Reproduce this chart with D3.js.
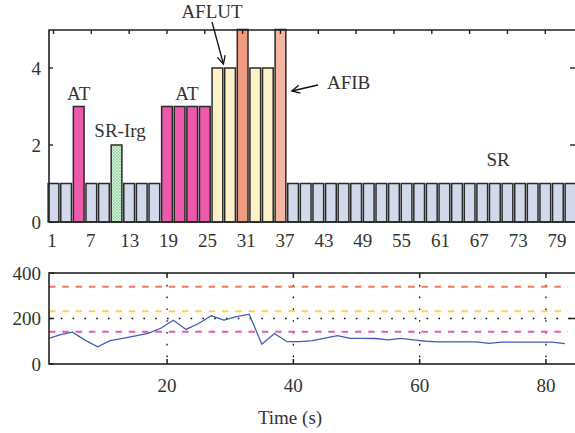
<!DOCTYPE html>
<html>
<head>
<meta charset="utf-8">
<script src="https://cdn.jsdelivr.net/npm/d3@7"></script>
<style>
  html, body { margin: 0; padding: 0; background: #fff; }
  svg { display: block; }
  text { font-family: "Liberation Serif", "Times New Roman", serif; fill: #333; }
</style>
</head>
<body>
<div id="chart"></div>
<script>
// ---------- data ----------
// beat-class per bar (42 bars, each covering two beats)
const barClass = [
  "SR","SR","AT","SR","SR","SR-Irg","SR","SR","SR",
  "AT","AT","AT","AT",
  "AFLUT","AFLUT","AFIB","AFLUT","AFLUT","AFIB-b",
  "SR","SR","SR","SR","SR","SR","SR","SR","SR","SR","SR","SR",
  "SR","SR","SR","SR","SR","SR","SR","SR","SR","SR","SR"
];
// severity level per class
const classLevel = { "SR": 1, "SR-Irg": 2, "AT": 3, "AFLUT": 4, "AFIB": 5, "AFIB-b": 5 };
const topTickLabels = [1, 7, 13, 19, 25, 31, 37, 43, 49, 55, 61, 67, 73, 79];
const topYTicks = [0, 2, 4];

// heart-rate trace (time in s, value)
const hrTime = [1, 3, 5, 7, 9, 11, 13, 15, 17, 19, 21, 23, 25, 27, 29, 31, 33, 35, 37, 39, 41,
  43, 45, 47, 49, 51, 53, 55, 57, 59, 61, 63, 65, 67, 69, 71, 73, 75, 77, 79, 81, 83];
const hrValue = [110, 128, 140, 105, 76, 103, 113, 124, 135, 157, 192, 152, 178, 212, 193, 208, 219, 87, 134, 98, 98,
  103, 114, 125, 113, 113, 112, 106, 113, 106, 100, 97, 97, 97, 97, 91, 96, 96, 96, 96, 96, 90];
const thresholdValues = [340, 232, 142];
const thresholdNames = ["AFIB", "AFLUT", "AT"];
const bottomXTicks = [20, 40, 60, 80];
const bottomYTicks = [0, 200, 400];

// ---------- styles ----------
const fills = {
  "SR": "#d1d9eb", "AT": "#ee5aab", "SR-Irg": "url(#hatch)",
  "AFLUT": "#fdf1c8", "AFIB": "#f39b82", "AFIB-b": "#f6b6a4"
};
const thrColors = { "AFIB": "#f27a5c", "AFLUT": "#f9d450", "AT": "#ee55b2" };

const W = 575, H = 433;
const svg = d3.select("#chart").append("svg").attr("width", W).attr("height", H);
const defs = svg.append("defs");
const pat = defs.append("pattern").attr("id", "hatch").attr("patternUnits", "userSpaceOnUse")
  .attr("width", 3).attr("height", 3);
pat.append("rect").attr("width", 3).attr("height", 3).attr("fill", "#d9f2de");
pat.append("path").attr("d", "M0,3 L3,0 M0,0 L3,3").attr("stroke", "#86cf9a").attr("stroke-width", 0.7);

const marker = defs.append("marker").attr("id", "arrow").attr("viewBox", "-10 -6 12 12")
  .attr("markerWidth", 12).attr("markerHeight", 12).attr("markerUnits", "userSpaceOnUse")
  .attr("refX", 0).attr("refY", 0).attr("orient", "auto");
marker.append("path").attr("d", "M-8,-4 L0,0 L-8,4").attr("fill", "none")
  .attr("stroke", "#111").attr("stroke-width", 1.3);

// ---------- top panel ----------
const T = { l: 49, r: 576, t: 30, b: 222 };
const x = d3.scaleBand().domain(d3.range(barClass.length)).range([47.5, 576.5])
  .paddingInner(0.15).paddingOuter(0.05);
const y = d3.scaleLinear().domain([0, 5]).range([T.b, 29.5]);
const labelX = d3.scaleLinear().domain([1, 79]).range([52, 557]);

const gTop = svg.append("g");
gTop.selectAll("rect.bar").data(barClass).join("rect").attr("class", "bar")
  .attr("x", (d, i) => x(i)).attr("width", x.bandwidth())
  .attr("y", d => y(classLevel[d])).attr("height", d => y(0) - y(classLevel[d]))
  .attr("fill", d => fills[d]).attr("stroke", "#2a2a2a").attr("stroke-width", 1.5);

// frame
gTop.append("path").attr("d", `M${T.l},${T.b} L${T.l},${T.t} L${T.r},${T.t} M${T.l},${T.b} L${T.r},${T.b}`)
  .attr("fill", "none").attr("stroke", "#222").attr("stroke-width", 1.6);
// top ticks every 3 bars
d3.range(0, barClass.length, 3).forEach(i => {
  const cx = x(i) + x.bandwidth() / 2;
  gTop.append("line").attr("x1", cx).attr("x2", cx).attr("y1", T.t).attr("y2", T.t + 4)
    .attr("stroke", "#222").attr("stroke-width", 1.4);
});
topYTicks.forEach(v => {
  gTop.append("line").attr("x1", T.l).attr("x2", T.l + 4).attr("y1", y(v)).attr("y2", y(v))
    .attr("stroke", "#222").attr("stroke-width", 1.4);
  if (v > 0) gTop.append("line").attr("x1", 570).attr("x2", 575).attr("y1", y(v)).attr("y2", y(v))
    .attr("stroke", "#222").attr("stroke-width", 1.4);
  gTop.append("text").attr("x", 41).attr("y", y(v)).attr("dy", "0.35em")
    .attr("text-anchor", "end").attr("font-size", 19).text(v);
});
topTickLabels.forEach(v => {
  gTop.append("text").attr("x", labelX(v)).attr("y", 247).attr("text-anchor", "middle")
    .attr("font-size", 19).text(v);
});

// annotations
function ann(txt, px, py, anchor) {
  gTop.append("text").attr("x", px).attr("y", py).attr("text-anchor", anchor || "middle")
    .attr("font-size", 19).text(txt);
}
const bc = i => x(i) + x.bandwidth() / 2;
ann("AT", bc(2), y(3) - 6.5);
ann("SR-Irg", bc(5) + 3.5, y(2) - 8);
ann("AT", (bc(9) + bc(12)) / 2 + 1, y(3) - 6.5);
ann("SR", 498, y(1) - 17.5);
ann("AFLUT", 212, 18);
ann("AFIB", 327, 89, "start");
gTop.append("line").attr("x1", 212).attr("y1", 22).attr("x2", bc(13) + 6).attr("y2", y(4) - 4)
  .attr("stroke", "#111").attr("stroke-width", 1.3).attr("marker-end", "url(#arrow)");
gTop.append("line").attr("x1", 318).attr("y1", 85).attr("x2", x(18) + x.bandwidth() + 6).attr("y2", 91)
  .attr("stroke", "#111").attr("stroke-width", 1.3).attr("marker-end", "url(#arrow)");

// ---------- bottom panel ----------
const B = { l: 49, r: 576, t: 273, b: 364 };
const xb = d3.scaleLinear().domain([1.3, 84.76]).range([B.l, B.r]);
const yb = d3.scaleLinear().domain([0, 400]).range([B.b, B.t]);
const gBot = svg.append("g");
defs.append("clipPath").attr("id", "clipB").append("rect")
  .attr("x", B.l).attr("y", B.t).attr("width", B.r - B.l).attr("height", B.b - B.t);

// grid (dotted)
bottomXTicks.forEach(v => {
  gBot.append("line").attr("x1", xb(v)).attr("x2", xb(v)).attr("y1", B.t).attr("y2", B.b)
    .attr("stroke", "#111").attr("stroke-width", 1.3).attr("stroke-dasharray", "1.6,10.2");
});
gBot.append("line").attr("x1", B.l).attr("x2", B.r).attr("y1", yb(200)).attr("y2", yb(200))
  .attr("stroke", "#111").attr("stroke-width", 1.3).attr("stroke-dasharray", "1.6,10.2");

// thresholds
thresholdValues.forEach((v, i) => {
  gBot.append("line").attr("x1", B.l).attr("x2", B.r - 8).attr("y1", yb(v)).attr("y2", yb(v))
    .attr("stroke", thrColors[thresholdNames[i]]).attr("stroke-width", 2)
    .attr("stroke-dasharray", "6.5,6.8");
});

// heart-rate line
const pts = hrTime.map((t, i) => [t, hrValue[i]]);
gBot.append("path").datum(pts).attr("clip-path", "url(#clipB)")
  .attr("d", d3.line().x(d => xb(d[0])).y(d => yb(d[1])))
  .attr("fill", "none").attr("stroke", "#3e5fb5").attr("stroke-width", 1.3);

// frame & ticks
gBot.append("rect").attr("x", B.l).attr("y", B.t).attr("width", B.r - B.l).attr("height", B.b - B.t)
  .attr("fill", "none").attr("stroke", "#222").attr("stroke-width", 1.6);
bottomXTicks.forEach(v => {
  gBot.append("line").attr("x1", xb(v)).attr("x2", xb(v)).attr("y1", B.t).attr("y2", B.t + 5)
    .attr("stroke", "#222").attr("stroke-width", 1.5);
  gBot.append("line").attr("x1", xb(v)).attr("x2", xb(v)).attr("y1", B.b).attr("y2", B.b - 5)
    .attr("stroke", "#222").attr("stroke-width", 1.5);
  gBot.append("text").attr("x", xb(v)).attr("y", 392).attr("text-anchor", "middle")
    .attr("font-size", 19).text(v);
});
bottomYTicks.forEach(v => {
  gBot.append("line").attr("x1", B.l).attr("x2", B.l + 5).attr("y1", yb(v)).attr("y2", yb(v))
    .attr("stroke", "#222").attr("stroke-width", 1.5);
  if (v === 200) gBot.append("line").attr("x1", 569).attr("x2", 575).attr("y1", yb(v)).attr("y2", yb(v))
    .attr("stroke", "#222").attr("stroke-width", 1.5);
  gBot.append("text").attr("x", 41).attr("y", yb(v)).attr("dy", "0.35em")
    .attr("text-anchor", "end").attr("font-size", 19).text(v);
});
gBot.append("text").attr("x", 290).attr("y", 424).attr("text-anchor", "middle")
  .attr("font-size", 19).text("Time (s)");
</script>
</body>
</html>
